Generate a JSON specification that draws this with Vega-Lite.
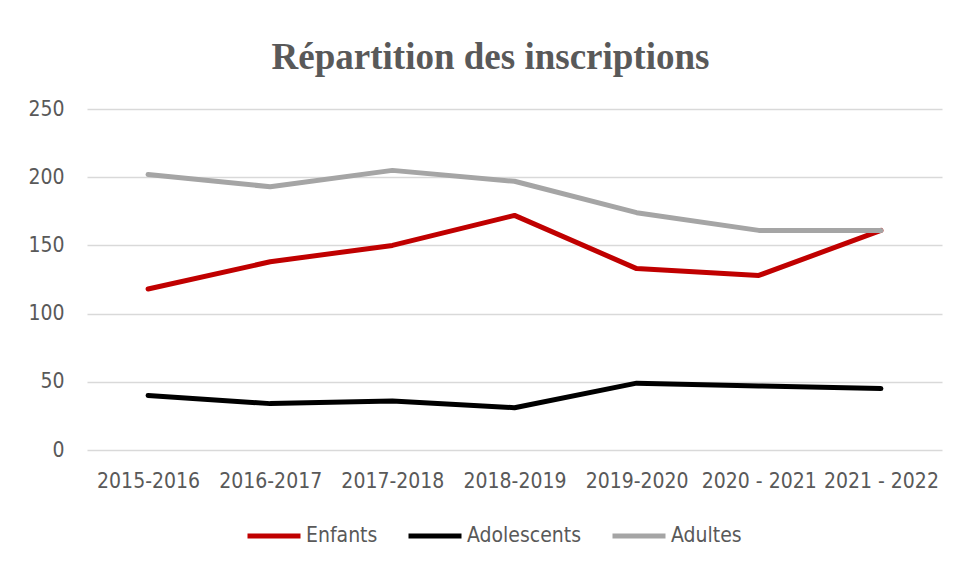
{
  "$schema": "https://vega.github.io/schema/vega-lite/v6.json",
  "autosize": {"type": "none"},
  "width": 855,
  "height": 341,
  "padding": {"left": 87, "top": 109, "right": 15, "bottom": 114},
  "background": "white",
  "title": {
    "text": "Répartition des inscriptions",
    "font": "Liberation Serif",
    "fontSize": 37,
    "fontWeight": "bold",
    "color": "#595959",
    "anchor": "middle",
    "offset": 21,
    "dx": -24
  },
  "data": {
    "values": [
      {"annee": "2015-2016", "serie": "Enfants", "valeur": 118},
      {"annee": "2016-2017", "serie": "Enfants", "valeur": 138},
      {"annee": "2017-2018", "serie": "Enfants", "valeur": 150},
      {"annee": "2018-2019", "serie": "Enfants", "valeur": 172},
      {"annee": "2019-2020", "serie": "Enfants", "valeur": 133},
      {"annee": "2020 - 2021", "serie": "Enfants", "valeur": 128},
      {"annee": "2021 - 2022", "serie": "Enfants", "valeur": 161},
      {"annee": "2015-2016", "serie": "Adolescents", "valeur": 40},
      {"annee": "2016-2017", "serie": "Adolescents", "valeur": 34},
      {"annee": "2017-2018", "serie": "Adolescents", "valeur": 36},
      {"annee": "2018-2019", "serie": "Adolescents", "valeur": 31},
      {"annee": "2019-2020", "serie": "Adolescents", "valeur": 49},
      {"annee": "2020 - 2021", "serie": "Adolescents", "valeur": 47},
      {"annee": "2021 - 2022", "serie": "Adolescents", "valeur": 45},
      {"annee": "2015-2016", "serie": "Adultes", "valeur": 202},
      {"annee": "2016-2017", "serie": "Adultes", "valeur": 193},
      {"annee": "2017-2018", "serie": "Adultes", "valeur": 205},
      {"annee": "2018-2019", "serie": "Adultes", "valeur": 197},
      {"annee": "2019-2020", "serie": "Adultes", "valeur": 174},
      {"annee": "2020 - 2021", "serie": "Adultes", "valeur": 161},
      {"annee": "2021 - 2022", "serie": "Adultes", "valeur": 161}
    ]
  },
  "mark": {"type": "line", "strokeWidth": 5, "strokeCap": "round", "strokeJoin": "round"},
  "encoding": {
    "x": {
      "field": "annee",
      "type": "ordinal",
      "sort": null,
      "scale": {"type": "point", "padding": 0.5},
      "axis": {
        "title": null,
        "labelAngle": 0,
        "domain": false,
        "ticks": false,
        "grid": false,
        "labelFont": "DejaVu Sans Condensed",
        "labelFontSize": 21,
        "labelColor": "#595959",
        "labelPadding": 20
      }
    },
    "y": {
      "field": "valeur",
      "type": "quantitative",
      "scale": {"domain": [0, 250]},
      "axis": {
        "title": null,
        "values": [0, 50, 100, 150, 200, 250],
        "domain": false,
        "ticks": false,
        "gridColor": "#D9D9D9",
        "gridWidth": 1.3,
        "labelFont": "DejaVu Sans Condensed",
        "labelFontSize": 21,
        "labelColor": "#595959",
        "labelPadding": 23
      }
    },
    "color": {
      "field": "serie",
      "type": "nominal",
      "sort": ["Enfants", "Adolescents", "Adultes"],
      "scale": {
        "domain": ["Enfants", "Adolescents", "Adultes"],
        "range": ["#C00000", "#000000", "#A5A5A5"]
      },
      "legend": {
        "title": null,
        "orient": "none",
        "direction": "horizontal",
        "legendX": 158,
        "legendY": 398,
        "symbolType": "stroke",
        "symbolSize": 2809,
        "symbolStrokeWidth": 5,
        "labelFont": "DejaVu Sans Condensed",
        "labelFontSize": 21,
        "labelColor": "#595959",
        "labelOffset": 3,
        "columnPadding": 20
      }
    }
  },
  "config": {"view": {"stroke": null}}
}
